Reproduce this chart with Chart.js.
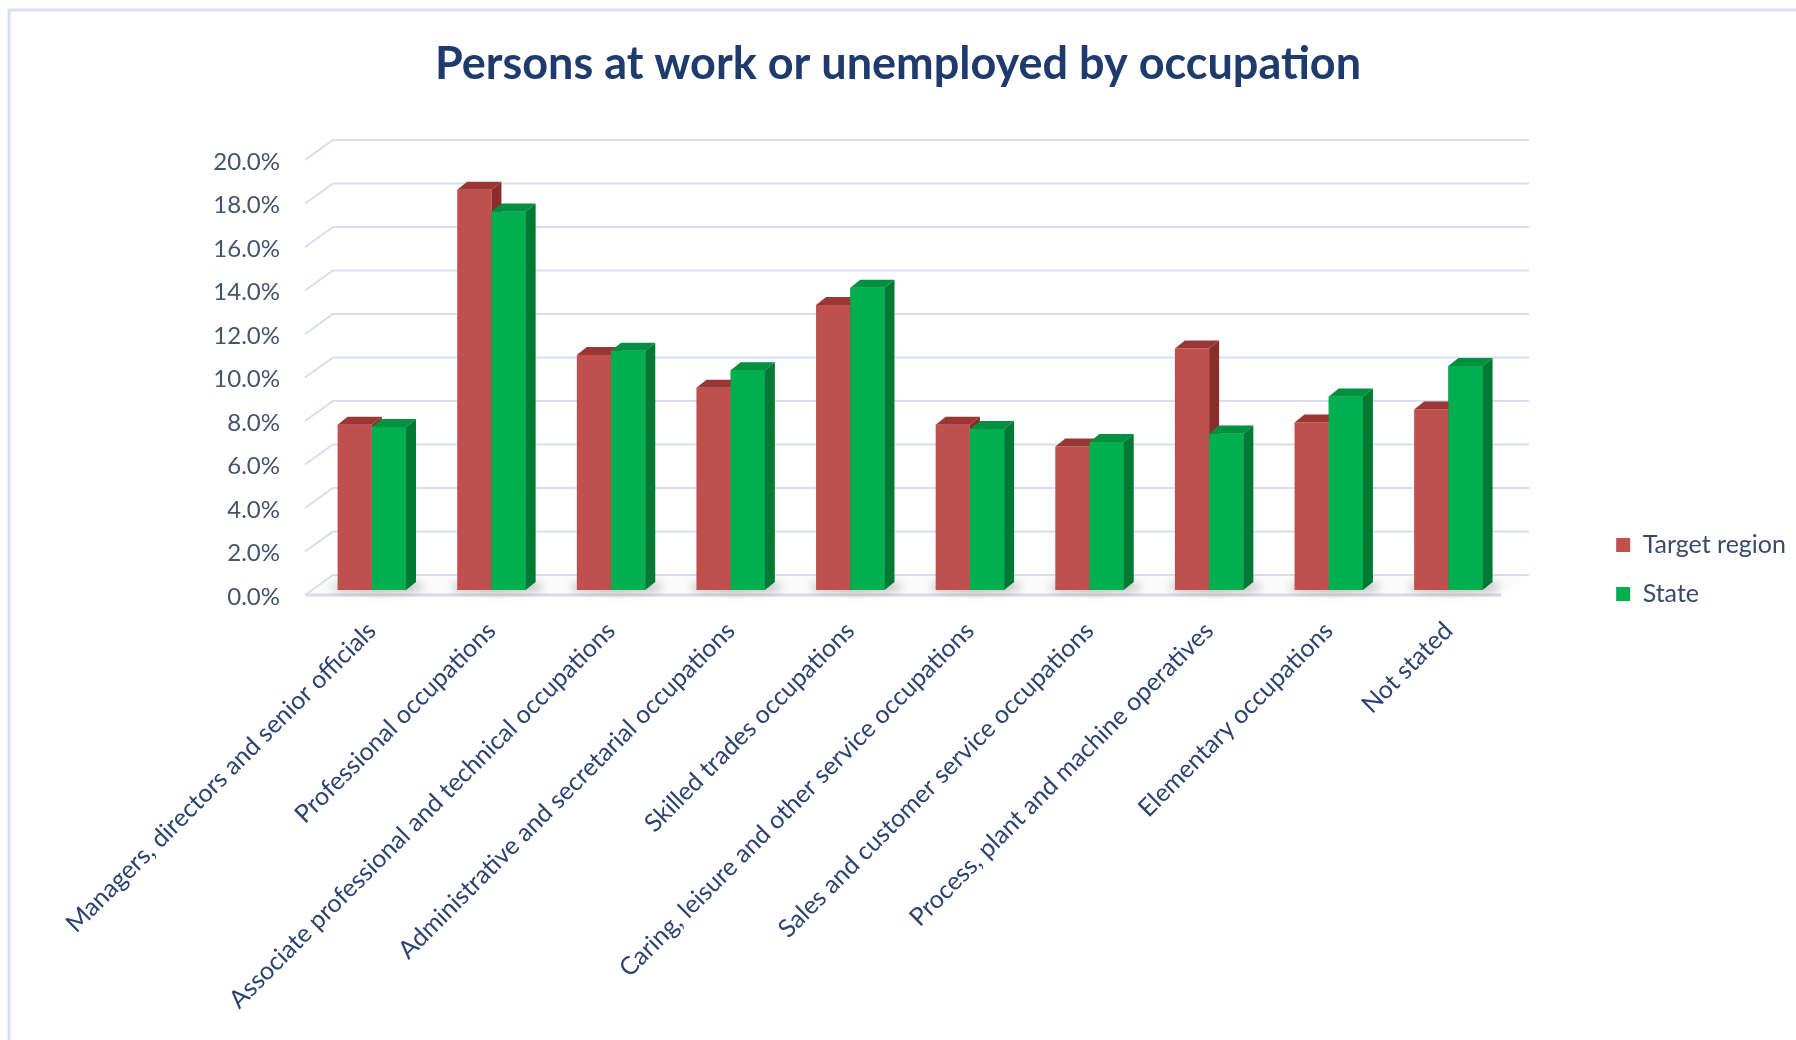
<!DOCTYPE html>
<html>
<head>
<meta charset="utf-8">
<title>Persons at work or unemployed by occupation</title>
<script src="https://cdn.jsdelivr.net/npm/chart.js@4.4.1/dist/chart.umd.min.js"></script>
<style>
  html, body { margin: 0; padding: 0; background: #fff; }
  #wrap { width: 1796px; height: 1040px; position: relative; }
</style>
</head>
<body>
<div id="wrap"><canvas id="grafico"></canvas></div>
<script>
const occupations = [
  'Managers, directors and senior officials',
  'Professional occupations',
  'Associate professional and technical occupations',
  'Administrative and secretarial occupations',
  'Skilled trades occupations',
  'Caring, leisure and other service occupations',
  'Sales and customer service occupations',
  'Process, plant and machine operatives',
  'Elementary occupations',
  'Not stated'
];
const targetRegion = [7.6, 18.4, 10.8, 9.3, 13.1, 7.6, 6.6, 11.1, 7.7, 8.3];
const state = [7.5, 17.4, 11.0, 10.1, 13.9, 7.4, 6.8, 7.2, 8.9, 10.3];
const yTicks = [0, 2, 4, 6, 8, 10, 12, 14, 16, 18, 20];

// fake 3d: bar depth, and where the front edge / back wall sit relative to the bars
const DEPTH = { dx: 10, dy: 8 };
const FRONT = { dx: -7, dy: 5 };
const BACK = { dx: 21, dy: -15 };

const faceColors = [
  { top: '#9a3634', side: '#8a2c2a' },
  { top: '#00903f', side: '#007a32' }
];

function poly(ctx, pts, fill) {
  ctx.beginPath();
  ctx.moveTo(pts[0][0], pts[0][1]);
  for (let i = 1; i < pts.length; i++) ctx.lineTo(pts[i][0], pts[i][1]);
  ctx.closePath();
  ctx.fillStyle = fill;
  ctx.fill();
}

function drawFaces(ctx, meta, c) {
  meta.data.forEach(el => {
    const { x, y, base, width } = el.getProps(['x', 'y', 'base', 'width'], true);
    const l = x - width / 2, r = x + width / 2;
    poly(ctx, [[r, y], [r + DEPTH.dx, y - DEPTH.dy], [r + DEPTH.dx, base - DEPTH.dy], [r, base]], c.side);
    poly(ctx, [[l, y], [l + DEPTH.dx, y - DEPTH.dy], [r + DEPTH.dx, y - DEPTH.dy], [r, y]], c.top);
  });
}

const frame3d = {
  id: 'frame3d',
  beforeDraw(chart) {
    const { ctx, width, height } = chart;
    ctx.save();
    ctx.fillStyle = '#fff';
    ctx.fillRect(0, 0, width, height);
    ctx.strokeStyle = '#d6e0f1';
    ctx.lineWidth = 3;
    ctx.beginPath();
    ctx.moveTo(9, height);
    ctx.lineTo(9, 10);
    ctx.lineTo(width, 10);
    ctx.stroke();
    ctx.restore();
  },
  beforeDatasetsDraw(chart) {
    const { ctx, chartArea: a, scales: { x, y } } = chart;
    const base = y.getPixelForValue(0);
    ctx.save();

    // floor
    poly(ctx, [
      [a.left + FRONT.dx, base + FRONT.dy], [a.right + FRONT.dx, base + FRONT.dy],
      [a.right + BACK.dx, base + BACK.dy], [a.left + BACK.dx, base + BACK.dy]
    ], '#fbfbfc');

    // gridlines: short diagonal on the left, then along the back wall
    ctx.strokeStyle = '#d9ddef';
    ctx.lineWidth = 2;
    yTicks.forEach(v => {
      const yb = y.getPixelForValue(v);
      ctx.beginPath();
      ctx.moveTo(a.left + FRONT.dx, yb + FRONT.dy);
      ctx.lineTo(a.left + BACK.dx, yb + BACK.dy);
      ctx.lineTo(a.right + BACK.dx, yb + BACK.dy);
      ctx.stroke();
    });

    // front edge of the floor
    ctx.strokeStyle = '#d8dbe4';
    ctx.lineWidth = 3;
    ctx.beginPath();
    ctx.moveTo(a.left + FRONT.dx, base + FRONT.dy);
    ctx.lineTo(a.right + FRONT.dx, base + FRONT.dy);
    ctx.stroke();

    // soft shadow under each pair of bars
    ctx.filter = 'blur(5px)';
    ctx.fillStyle = 'rgba(110,110,110,0.55)';
    occupations.forEach((_, i) => {
      const cx = x.getPixelForValue(i);
      ctx.beginPath();
      ctx.ellipse(cx + 6, base - 3, 46, 5, 0, 0, Math.PI * 2);
      ctx.fill();
    });
    ctx.filter = 'none';
    ctx.restore();
  },
  afterDatasetsDraw(chart) {
    const { ctx } = chart;
    const red = chart.getDatasetMeta(0);
    const green = chart.getDatasetMeta(1);
    ctx.save();
    drawFaces(ctx, red, faceColors[0]);
    // green sits beside red, so its front covers the red side face
    green.data.forEach(el => el.draw(ctx));
    drawFaces(ctx, green, faceColors[1]);
    ctx.restore();
  }
};

const ctx = document.getElementById('grafico').getContext('2d');
new Chart(ctx, {
  type: 'bar',
  data: {
    labels: occupations,
    datasets: [
      { label: 'Target region', data: targetRegion, backgroundColor: '#c0504d' },
      { label: 'State', data: state, backgroundColor: '#00b050' }
    ]
  },
  options: {
    responsive: true,
    maintainAspectRatio: false,
    animation: false,
    layout: { padding: { left: 0, right: 0, top: 0, bottom: 24 } },
    datasets: { bar: { categoryPercentage: 0.572, barPercentage: 1 } },
    plugins: {
      title: {
        display: true,
        text: 'Persons at work or unemployed by occupation',
        color: '#1f3b6e',
        font: { family: 'Lato', size: 45, weight: 'bold', lineHeight: 1.2 },
        padding: { top: 37, bottom: 64 }
      },
      legend: {
        display: true,
        position: 'right',
        align: 'center',
        title: { display: true, text: '', font: { size: 10, lineHeight: 1 }, padding: { top: 113, bottom: 0 } },
        labels: {
          color: '#3b4a6a',
          font: { family: 'Lato', size: 25 },
          boxWidth: 14,
          boxHeight: 14,
          padding: 24
        }
      },
      tooltip: { enabled: false }
    },
    scales: {
      x: {
        grid: { display: false },
        border: { display: false },
        ticks: {
          autoSkip: false,
          maxRotation: 45,
          minRotation: 45,
          padding: 18,
          color: '#2c4270',
          font: { family: 'Lato', size: 25 }
        },
        afterFit: s => { s.height = 426; }
      },
      y: {
        min: 0,
        max: 20,
        grid: { display: false, drawTicks: false },
        border: { display: false },
        afterBuildTicks: s => { s.ticks = yTicks.map(v => ({ value: v })); },
        ticks: {
          padding: 32,
          labelOffset: 7,
          color: '#44546a',
          font: { family: 'Lato', size: 24 },
          callback: v => v.toFixed(1) + '%'
        },
        afterFit: s => { s.width = 312; }
      },
      gap: {
        type: 'linear',
        position: 'right',
        display: true,
        grid: { display: false },
        border: { display: false },
        ticks: { display: false },
        afterFit: s => { s.width = 84; }
      }
    }
  },
  plugins: [frame3d]
});
</script>
</body>
</html>
